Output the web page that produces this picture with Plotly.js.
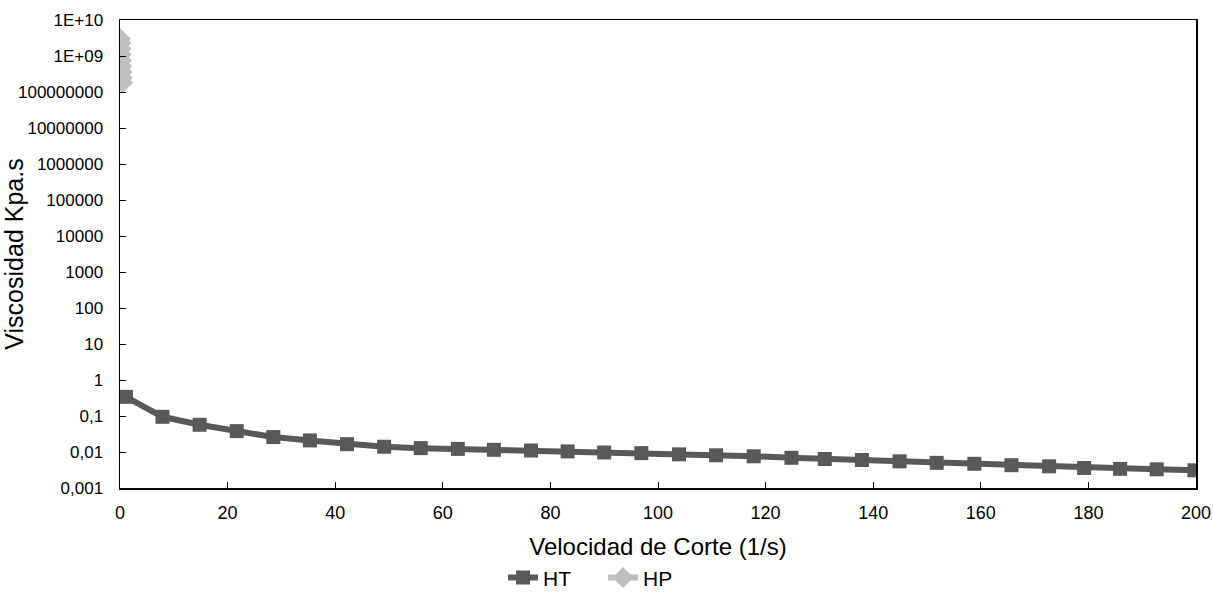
<!DOCTYPE html>
<html>
<head>
<meta charset="utf-8">
<script src="https://cdn.plot.ly/plotly-3.0.1.min.js"></script>
<style>html,body{margin:0;padding:0;background:#fff;}#chart{width:1213px;height:596px;}</style>
</head>
<body>
<div id="chart"></div>
<script>
// HT series
const htX = [1.1, 7.9, 14.8, 21.7, 28.5, 35.3, 42.2, 49.1, 55.9, 62.8, 69.5, 76.4, 83.2, 90.0, 96.9, 103.9, 110.8, 117.8, 124.8, 131.0, 137.9, 144.9, 151.8, 158.8, 165.7, 172.7, 179.2, 185.9, 192.7, 199.7];
const htY = [0.34, 0.095, 0.057, 0.038, 0.026, 0.021, 0.0165, 0.014, 0.0128, 0.0122, 0.0115, 0.011, 0.0104, 0.0097, 0.0093, 0.0086, 0.0081, 0.0076, 0.0069, 0.0064, 0.006, 0.0055, 0.005, 0.0047, 0.0043, 0.004, 0.0036, 0.0034, 0.0033, 0.0031];
// HP series
const hpX = [0.10, 0.15, 0.20, 0.25, 0.30, 0.35, 0.40, 0.45, 0.50];
const hpY = [3.0e9, 2.3e9, 1.6e9, 1.1e9, 7.5e8, 5.2e8, 3.6e8, 2.5e8, 1.8e8];
// axis ticks
const yTickVals = [1e10, 1e9, 1e8, 1e7, 1e6, 1e5, 1e4, 1e3, 100, 10, 1, 0.1, 0.01, 0.001];
const yTickText = ["1E+10", "1E+09", "100000000", "10000000", "1000000", "100000", "10000", "1000", "100", "10", "1", "0,1", "0,01", "0,001"];

const font = "Liberation Sans, Arial, sans-serif";
const traces = [
  {x: htX, y: htY, name: "HT", type: "scatter", mode: "lines+markers",
   line: {color: "#595959", width: 6}, marker: {symbol: "square", size: 14, color: "#595959"}},
  {x: hpX, y: hpY, name: "HP", type: "scatter", mode: "lines+markers",
   line: {color: "#bfbfbf", width: 6}, marker: {symbol: "diamond", size: 16, color: "#bfbfbf"}}
];
const layout = {
  width: 1213, height: 596,
  margin: {l: 120, r: 17, t: 20, b: 108, autoexpand: false},
  paper_bgcolor: "#fff", plot_bgcolor: "#fff",
  font: {family: font, color: "#000", size: 17},
  showlegend: true,
  legend: {orientation: "h", x: 0.356, xanchor: "left", y: -0.192, yanchor: "middle",
           font: {size: 21, family: font}, itemwidth: 30, entrywidth: 55, entrywidthmode: "pixels"},
  xaxis: {range: [0, 200], dtick: 20, tick0: 0, showgrid: false, zeroline: false, automargin: false,
          showline: true, linecolor: "#000", linewidth: 1.5, mirror: true,
          ticks: "inside", ticklen: 6, tickcolor: "#000", tickwidth: 1,
          ticklabelstandoff: 8,
          tickfont: {size: 18, family: font},
          title: {text: "Velocidad de Corte (1/s)", font: {size: 24, family: font}, standoff: 16}},
  yaxis: {type: "log", range: [-3, 10], tickvals: yTickVals, ticktext: yTickText, automargin: false,
          showgrid: false, zeroline: false, showline: true, linecolor: "#000", linewidth: 1.5, mirror: true,
          ticks: "inside", ticklen: 6, tickcolor: "#000", tickwidth: 1,
          ticklabelstandoff: 12,
          tickfont: {size: 17, family: font},
          title: {text: "Viscosidad Kpa.s", font: {size: 25, family: font}, standoff: 1}}
};
Plotly.newPlot("chart", traces, layout, {displayModeBar: false, staticPlot: true});
</script>
</body>
</html>
